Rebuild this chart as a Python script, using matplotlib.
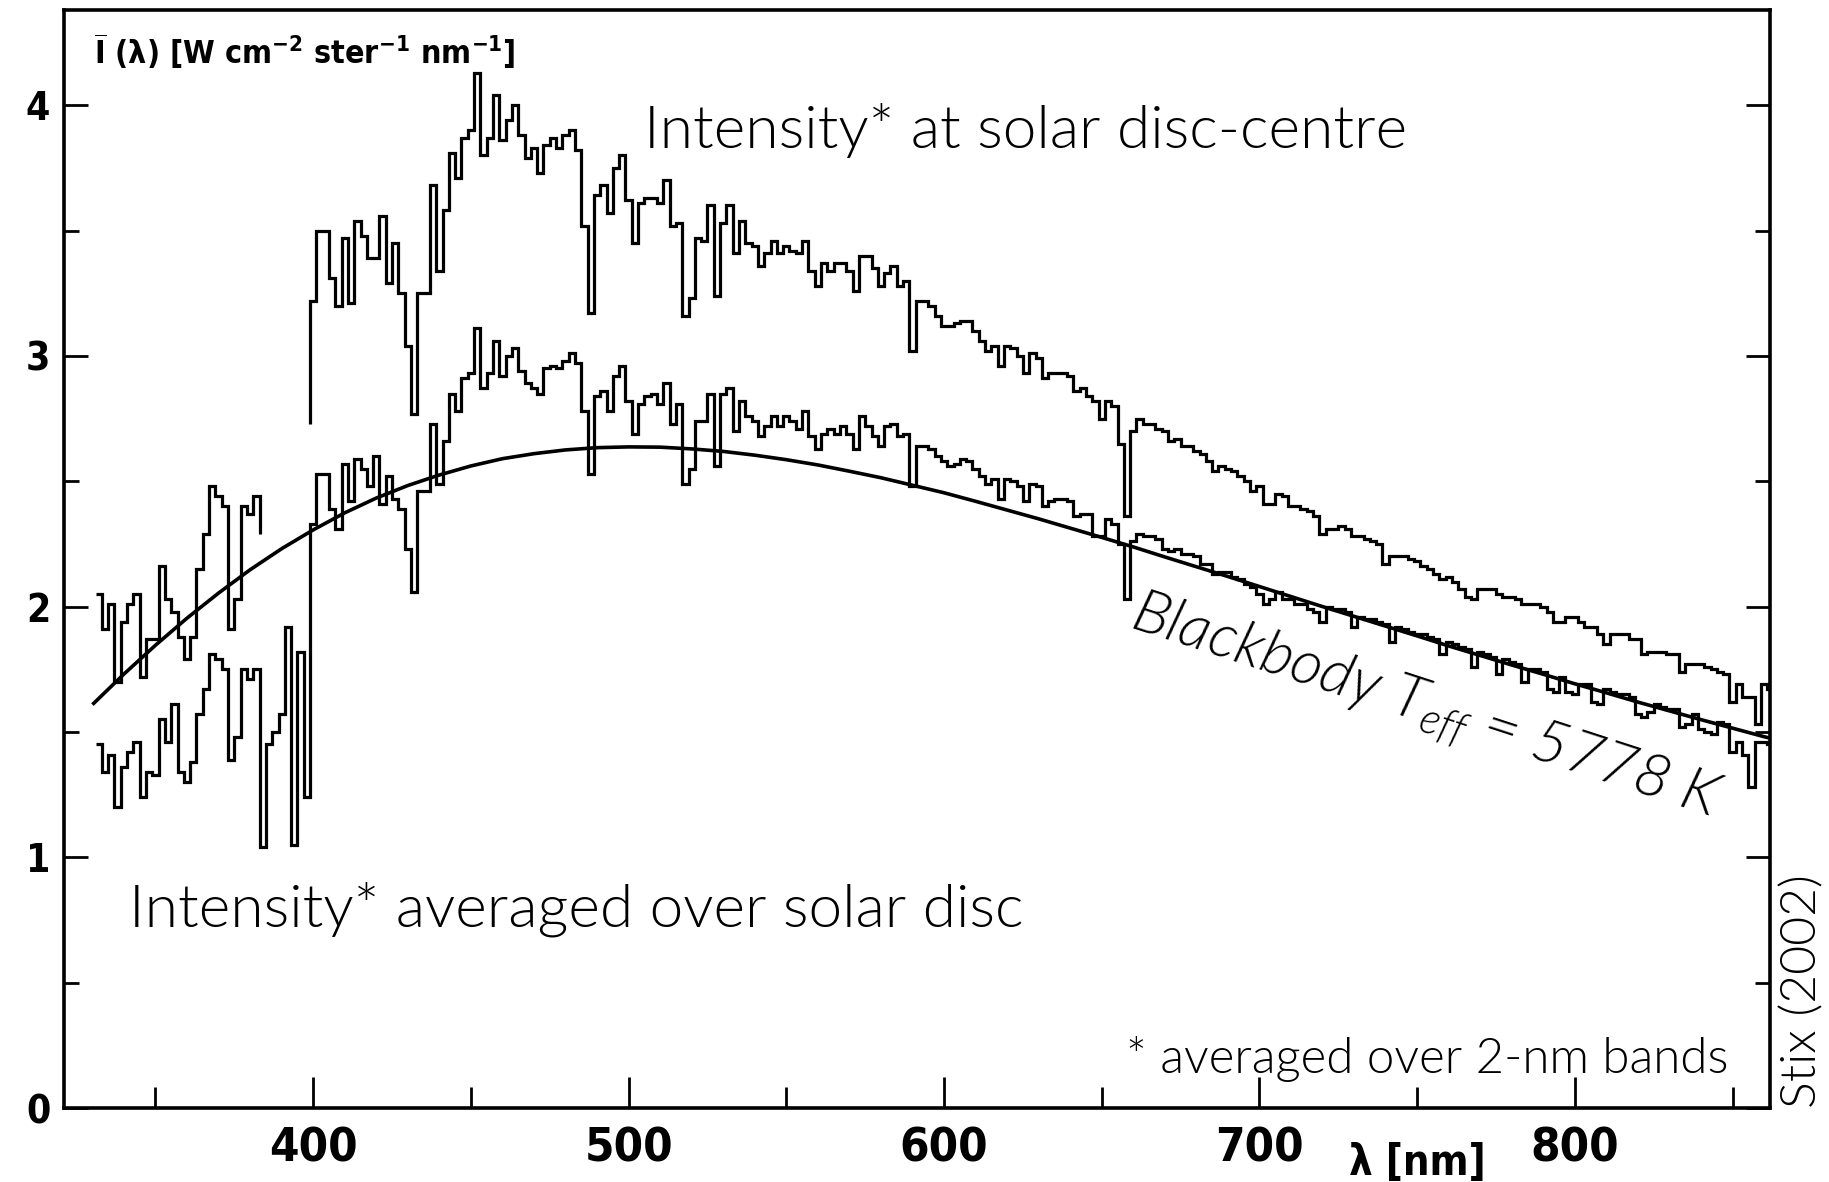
import numpy as np
import matplotlib
matplotlib.use("Agg")
import matplotlib.pyplot as plt

# Solar spectrum, averaged over 2-nm bands
# disc-centre intensity, UV part (bands starting at 331 nm)
disc_centre_uv_start = 331
disc_centre_uv = [
    2.05, 1.91, 2.01, 1.70, 1.94, 2.01, 2.05, 1.72, 1.87, 1.87,
    2.16, 2.03, 1.98, 1.88, 1.79, 1.88, 2.15, 2.29, 2.48, 2.44,
    2.40, 1.91, 2.03, 2.40, 2.37, 2.44]
uv_end_level = 2.29

# disc-centre intensity from 399 nm on
disc_centre_start = 399
centre_start_level = 2.73
disc_centre = [
    3.22, 3.50, 3.50, 3.31, 3.20, 3.47, 3.21, 3.54, 3.48, 3.39,
    3.39, 3.56, 3.29, 3.45, 3.25, 3.04, 2.77, 3.25, 3.25, 3.68,
    3.34, 3.58, 3.81, 3.71, 3.87, 3.90, 4.13, 3.80, 3.87, 4.04,
    3.86, 3.94, 4.00, 3.88, 3.79, 3.83, 3.73, 3.84, 3.87, 3.83,
    3.88, 3.90, 3.82, 3.52, 3.17, 3.64, 3.68, 3.57, 3.75, 3.80,
    3.62, 3.45, 3.61, 3.63, 3.63, 3.61, 3.70, 3.52, 3.53, 3.16,
    3.23, 3.47, 3.46, 3.60, 3.24, 3.53, 3.60, 3.41, 3.54, 3.45,
    3.44, 3.36, 3.41, 3.46, 3.41, 3.44, 3.42, 3.41, 3.46, 3.34,
    3.28, 3.37, 3.34, 3.37, 3.37, 3.34, 3.26, 3.40, 3.40, 3.35,
    3.28, 3.33, 3.36, 3.28, 3.30, 3.02, 3.22, 3.22, 3.20, 3.16,
    3.12, 3.12, 3.13, 3.14, 3.14, 3.10, 3.06, 3.02, 3.04, 2.96,
    3.04, 3.03, 3.00, 2.93, 3.01, 2.99, 2.91, 2.93, 2.93, 2.93,
    2.92, 2.86, 2.87, 2.84, 2.82, 2.75, 2.82, 2.80, 2.65, 2.36,
    2.70, 2.75, 2.73, 2.73, 2.71, 2.70, 2.66, 2.67, 2.64, 2.64,
    2.62, 2.61, 2.58, 2.54, 2.56, 2.55, 2.54, 2.52, 2.50, 2.46,
    2.48, 2.41, 2.41, 2.45, 2.44, 2.40, 2.40, 2.39, 2.38, 2.36,
    2.29, 2.31, 2.31, 2.32, 2.31, 2.28, 2.28, 2.27, 2.26, 2.25,
    2.17, 2.20, 2.20, 2.20, 2.19, 2.18, 2.16, 2.15, 2.13, 2.11,
    2.12, 2.10, 2.07, 2.04, 2.03, 2.07, 2.07, 2.07, 2.05, 2.04,
    2.04, 2.03, 2.01, 2.01, 2.01, 2.00, 1.98, 1.94, 1.94, 1.96,
    1.96, 1.94, 1.92, 1.92, 1.89, 1.85, 1.89, 1.89, 1.89, 1.87,
    1.87, 1.81, 1.82, 1.82, 1.82, 1.81, 1.81, 1.74, 1.77, 1.77,
    1.77, 1.76, 1.75, 1.74, 1.73, 1.62, 1.69, 1.64, 1.64, 1.53,
    1.69, 1.67]

# intensity averaged over the solar disc (bands starting at 331 nm)
disc_avg_start = 331
disc_avg = [
    1.45, 1.34, 1.41, 1.20, 1.36, 1.42, 1.46, 1.24, 1.34, 1.33,
    1.55, 1.46, 1.61, 1.34, 1.30, 1.38, 1.57, 1.67, 1.81, 1.79,
    1.75, 1.39, 1.48, 1.75, 1.71, 1.75, 1.04, 1.45, 1.50, 1.57,
    1.92, 1.05, 1.82, 1.24, 2.33, 2.53, 2.53, 2.39, 2.31, 2.57,
    2.42, 2.59, 2.55, 2.48, 2.60, 2.41, 2.52, 2.43, 2.39, 2.23,
    2.06, 2.46, 2.46, 2.73, 2.49, 2.66, 2.85, 2.78, 2.91, 2.93,
    3.11, 2.87, 2.93, 3.06, 2.92, 3.00, 3.03, 2.94, 2.89, 2.87,
    2.85, 2.95, 2.96, 2.95, 2.98, 3.01, 2.97, 2.78, 2.53, 2.84,
    2.86, 2.78, 2.92, 2.96, 2.82, 2.69, 2.81, 2.84, 2.85, 2.81,
    2.89, 2.73, 2.81, 2.49, 2.55, 2.74, 2.74, 2.85, 2.56, 2.85,
    2.87, 2.70, 2.82, 2.76, 2.74, 2.68, 2.72, 2.76, 2.72, 2.76,
    2.74, 2.71, 2.78, 2.68, 2.63, 2.69, 2.71, 2.69, 2.72, 2.69,
    2.63, 2.76, 2.72, 2.68, 2.64, 2.72, 2.73, 2.68, 2.69, 2.48,
    2.64, 2.64, 2.63, 2.60, 2.58, 2.56, 2.57, 2.59, 2.58, 2.55,
    2.52, 2.49, 2.51, 2.43, 2.51, 2.50, 2.48, 2.42, 2.49, 2.48,
    2.40, 2.42, 2.43, 2.43, 2.42, 2.36, 2.37, 2.37, 2.28, 2.28,
    2.35, 2.33, 2.25, 2.03, 2.26, 2.29, 2.28, 2.28, 2.27, 2.23,
    2.22, 2.23, 2.21, 2.21, 2.20, 2.17, 2.17, 2.13, 2.14, 2.14,
    2.12, 2.11, 2.09, 2.08, 2.05, 2.01, 2.03, 2.06, 2.03, 2.03,
    2.01, 2.01, 1.99, 1.98, 1.94, 2.00, 1.99, 1.99, 1.98, 1.92,
    1.96, 1.95, 1.95, 1.94, 1.93, 1.86, 1.92, 1.91, 1.90, 1.89,
    1.89, 1.88, 1.87, 1.81, 1.86, 1.85, 1.84, 1.83, 1.76, 1.82,
    1.81, 1.80, 1.73, 1.79, 1.78, 1.77, 1.70, 1.75, 1.75, 1.74,
    1.67, 1.66, 1.72, 1.66, 1.65, 1.69, 1.69, 1.62, 1.61, 1.67,
    1.66, 1.65, 1.65, 1.64, 1.57, 1.56, 1.58, 1.61, 1.60, 1.59,
    1.59, 1.52, 1.53, 1.57, 1.51, 1.50, 1.49, 1.54, 1.53, 1.42,
    1.46, 1.41, 1.28, 1.46, 1.46, 1.45]

# blackbody curve, Teff = 5778 K
bb_wl = [330, 340, 350, 360, 370, 380, 390, 400, 410, 420, 430, 440, 450,
         460, 470, 480, 490, 500, 510, 520, 530, 540, 550, 560, 570, 580,
         590, 600, 610, 620, 630, 640, 650, 660, 670, 680, 690, 700, 710,
         720, 730, 740, 750, 760, 770, 780, 790, 800, 810, 820, 830, 840,
         850, 860, 862]
bb_val = [1.609, 1.731, 1.846, 1.954, 2.054, 2.147, 2.231, 2.306, 2.374,
          2.433, 2.483, 2.525, 2.561, 2.590, 2.610, 2.625, 2.634, 2.637,
          2.636, 2.629, 2.619, 2.604, 2.586, 2.565, 2.540, 2.514, 2.484,
          2.454, 2.420, 2.385, 2.350, 2.313, 2.276, 2.238, 2.198, 2.159,
          2.120, 2.080, 2.040, 2.000, 1.961, 1.922, 1.883, 1.843, 1.805,
          1.767, 1.730, 1.692, 1.656, 1.619, 1.584, 1.549, 1.515, 1.481,
          1.475]

band = 2  # nm

label_font = dict(family=["Lato", "DejaVu Sans"], weight=300)
axis_font = dict(family=["DejaVu Sans"], weight="bold", stretch="condensed")

fig = plt.figure(figsize=(18.29, 11.82), dpi=100)
ax = fig.add_axes([0.035, 0.0626, 0.933, 0.929])

# step curves
e_uv = np.arange(disc_centre_uv_start, disc_centre_uv_start + band * len(disc_centre_uv) + 1, band)
ax.stairs(disc_centre_uv + [uv_end_level], np.append(e_uv, e_uv[-1]),
          baseline=None, color="black", lw=2.3)

e_c = np.arange(disc_centre_start, disc_centre_start + band * len(disc_centre) + 1, band)
ax.stairs([centre_start_level] + disc_centre, np.insert(e_c, 0, e_c[0]),
          baseline=None, color="black", lw=2.3)

e_a = np.arange(disc_avg_start, disc_avg_start + band * len(disc_avg) + 1, band)
ax.stairs(disc_avg, e_a, baseline=None, color="black", lw=2.3)

ax.plot(bb_wl, bb_val, color="black", lw=2.6, solid_capstyle="butt")

ax.set_xlim(321, 862)
ax.set_ylim(0, 4.38)

ax.set_xticks([400, 500, 600, 700, 800])
ax.set_xticks([350, 450, 550, 650, 750, 850], minor=True)
ax.set_yticks([0, 1, 2, 3, 4])
ax.set_yticks([0.5, 1.5, 2.5, 3.5], minor=True)
ax.tick_params(axis="x", which="major", direction="in", length=22, width=2, pad=13, labelsize=34)
ax.tick_params(axis="x", which="minor", direction="in", length=15, width=2)
ax.tick_params(axis="y", which="major", direction="in", length=17, width=2, pad=10,
               labelsize=28, right=True)
ax.tick_params(axis="y", which="minor", direction="in", length=11, width=2, right=True)
for lbl in ax.get_xticklabels() + ax.get_yticklabels():
    lbl.set_family(axis_font["family"])
    lbl.set_weight(axis_font["weight"])
    lbl.set_stretch(axis_font["stretch"])
for s in ax.spines.values():
    s.set_linewidth(2.6)

# labels
ax.text(330.4, 4.163, r"$\overline{\mathdefault{I}}$ (λ) [W cm$^{\mathdefault{-2}}$ ster$^{\mathdefault{-1}}$ nm$^{\mathdefault{-1}}$]",
        fontsize=23, ha="left", va="baseline", **axis_font)
fig.text(1417 / 1829, 1 - 1163 / 1182, "λ [nm]", fontsize=30, ha="center", va="center", **axis_font)

ax.text(505, 3.83, "Intensity* at solar disc-centre", fontsize=43.5,
        ha="left", va="baseline", **label_font)
ax.text(341.5, 0.724, "Intensity* averaged over solar disc", fontsize=43.5,
        ha="left", va="baseline", **label_font)
ax.text(658.6, 1.92, r"Blackbody T$_{\mathdefault{eff}}$ = 5778 K", fontsize=44, style="italic",
        rotation=-18, rotation_mode="anchor", ha="left", va="baseline", **label_font)
ax.text(657.8, 0.14, "* averaged over 2-nm bands", fontsize=35.5, ha="left", va="baseline", **label_font)
fig.text(1803 / 1829, 1 - 1108 / 1182, "Stix (2002)", fontsize=36, rotation=90,
         ha="center", va="bottom", **label_font)

fig.savefig("out.png", dpi=100, facecolor="white")
